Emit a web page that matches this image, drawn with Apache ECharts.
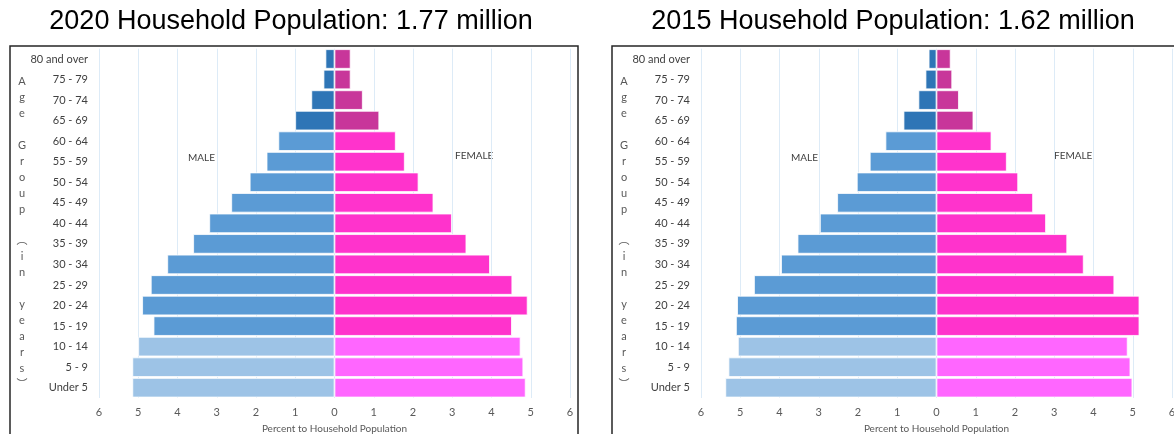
<!DOCTYPE html>
<html>
<head>
<meta charset="utf-8">
<title>Household Population Pyramid</title>
<script src="https://cdn.jsdelivr.net/npm/echarts@6/dist/echarts.min.js"></script>
<style>
	html,body{margin:0;padding:0;background:#fff;}
	#pyramid{width:1174px;height:434px;}
</style>
</head>
<body>
<div id="pyramid"></div>
<script>
	// 年龄组，从上到下
	var ageGroups = ["80 and over","75 - 79","70 - 74","65 - 69","60 - 64","55 - 59","50 - 54","45 - 49","40 - 44","35 - 39","30 - 34","25 - 29","20 - 24","15 - 19","10 - 14","5 - 9","Under 5"];
	var xTicks = [6,5,4,3,2,1,0,1,2,3,4,5,6];

	var titles = ["2020 Household Population: 1.77 million","2015 Household Population: 1.62 million"];
	var axisTitle = "Percent to Household Population";
	var sideLabels = ["MALE","FEMALE"];
	var ageTitle = "Age Group (in years)";

	// 百分比，2020
	var male2020 = [0.23,0.28,0.59,1.0,1.43,1.73,2.16,2.63,3.19,3.6,4.26,4.68,4.9,4.61,5.0,5.15,5.15];
	var female2020 = [0.41,0.41,0.72,1.14,1.56,1.79,2.14,2.52,2.99,3.36,3.96,4.53,4.92,4.52,4.74,4.81,4.87];
	// 百分比，2015
	var male2015 = [0.2,0.28,0.46,0.84,1.3,1.7,2.03,2.53,2.97,3.54,3.96,4.65,5.08,5.11,5.06,5.3,5.38];
	var female2015 = [0.36,0.4,0.57,0.94,1.4,1.79,2.08,2.46,2.79,3.33,3.75,4.53,5.17,5.17,4.87,4.94,4.99];

	var maleColors = ["#2E75B6","#5B9BD5","#9DC3E6"];
	var femaleColors = ["#C8369A","#FF33CC","#FF66FF"];

	function bandOf(i){
		if(i<=3){ return 0 }      // 65 以上
		if(i<=13){ return 1 }     // 15 - 64
		return 2                  // 0 - 14
	}

	function makeData(arr,colors,sign){
		return arr.map(function(v,i){
			return {
				value: sign*v,
				itemStyle:{color: colors[bandOf(i)]}
			}
		})
	}

	var font = "Lato";
	var grey = "#595959";

	function xAxisFor(idx){
		return {
			gridIndex: idx,
			type: 'value',
			min: -6,
			max: 6,
			interval: 1,
			axisLine:{show:false},
			axisTick:{show:false},
			splitLine:{lineStyle:{color:'#DDEBF7',width:1}},
			axisLabel:{
				color: grey,
				fontFamily: font,
				fontSize: 11,
				margin: 9,
				formatter:function(value){
					return xTicks[value+6]
				}
			},
			name: axisTitle,
			nameLocation: 'middle',
			nameGap: 26,
			nameTextStyle:{color: grey, fontFamily: font, fontSize: 10}
		}
	}

	function yAxisFor(idx){
		return {
			gridIndex: idx,
			type: 'category',
			inverse: true,
			data: ageGroups,
			axisLine:{show:false},
			axisTick:{show:false},
			axisLabel:{color:'#404040', fontFamily: font, fontSize: 11, margin: 11}
		}
	}

	function barSeries(idx,data){
		return {
			type: 'bar',
			xAxisIndex: idx,
			yAxisIndex: idx,
			data: data,
			barGap: '-100%',
			barCategoryGap: '5%',
			itemStyle:{borderColor:'#ffffff',borderWidth:0.8},
			silent: true
		}
	}

	var panelLeft = [10,612];
	var gridLeft = [99,701];

	var graphics = [];
	for(var p=0;p<2;p++){
		// 外框
		graphics.push({
			type:'rect',
			shape:{x:panelLeft[p],y:46,width:568,height:420},
			style:{fill:null,stroke:'#262626',lineWidth:1.5},
			z: 1
		});
		graphics.push({
			type:'text',
			x: gridLeft[p]+192,
			y: 22,
			style:{text:titles[p],font:'27px "Liberation Sans", Arial',fill:'#000',align:'center',verticalAlign:'middle'}
		});
		graphics.push({
			type:'text',
			x: panelLeft[p]+12,
			y: 74,
			style:{
				text: ageTitle.replace('(','\uFE35').replace(')','\uFE36').split('').join('\n'),
				font:'11px Lato, "Noto Sans CJK SC"',
				fill:grey,
				align:'center',
				verticalAlign:'top',
				lineHeight:15.9
			}
		});
		graphics.push({
			type:'text',
			x: gridLeft[p]+(p==0?89:90),
			y: 158,
			style:{text:sideLabels[0],font:'10px Lato',fill:'#404040',align:'left',verticalAlign:'middle'}
		});
		graphics.push({
			type:'text',
			x: gridLeft[p]+(p==0?356:353),
			y: 156,
			style:{text:sideLabels[1],font:'10px Lato',fill:'#404040',align:'left',verticalAlign:'middle'}
		});
	}

	var myChart = echarts.init(document.getElementById('pyramid'));
	var option = {
		animation: false,
		grid:[
			{left:99, width:471, top:48.7, height:349.3, outerBoundsMode:'none'},
			{left:701, width:471, top:48.7, height:349.3, outerBoundsMode:'none'}
		],
		xAxis:[xAxisFor(0),xAxisFor(1)],
		yAxis:[yAxisFor(0),yAxisFor(1)],
		series:[
			barSeries(0,makeData(male2020,maleColors,-1)),
			barSeries(0,makeData(female2020,femaleColors,1)),
			barSeries(1,makeData(male2015,maleColors,-1)),
			barSeries(1,makeData(female2015,femaleColors,1))
		],
		graphic: graphics
	};
	myChart.setOption(option);
</script>
</body>
</html>
